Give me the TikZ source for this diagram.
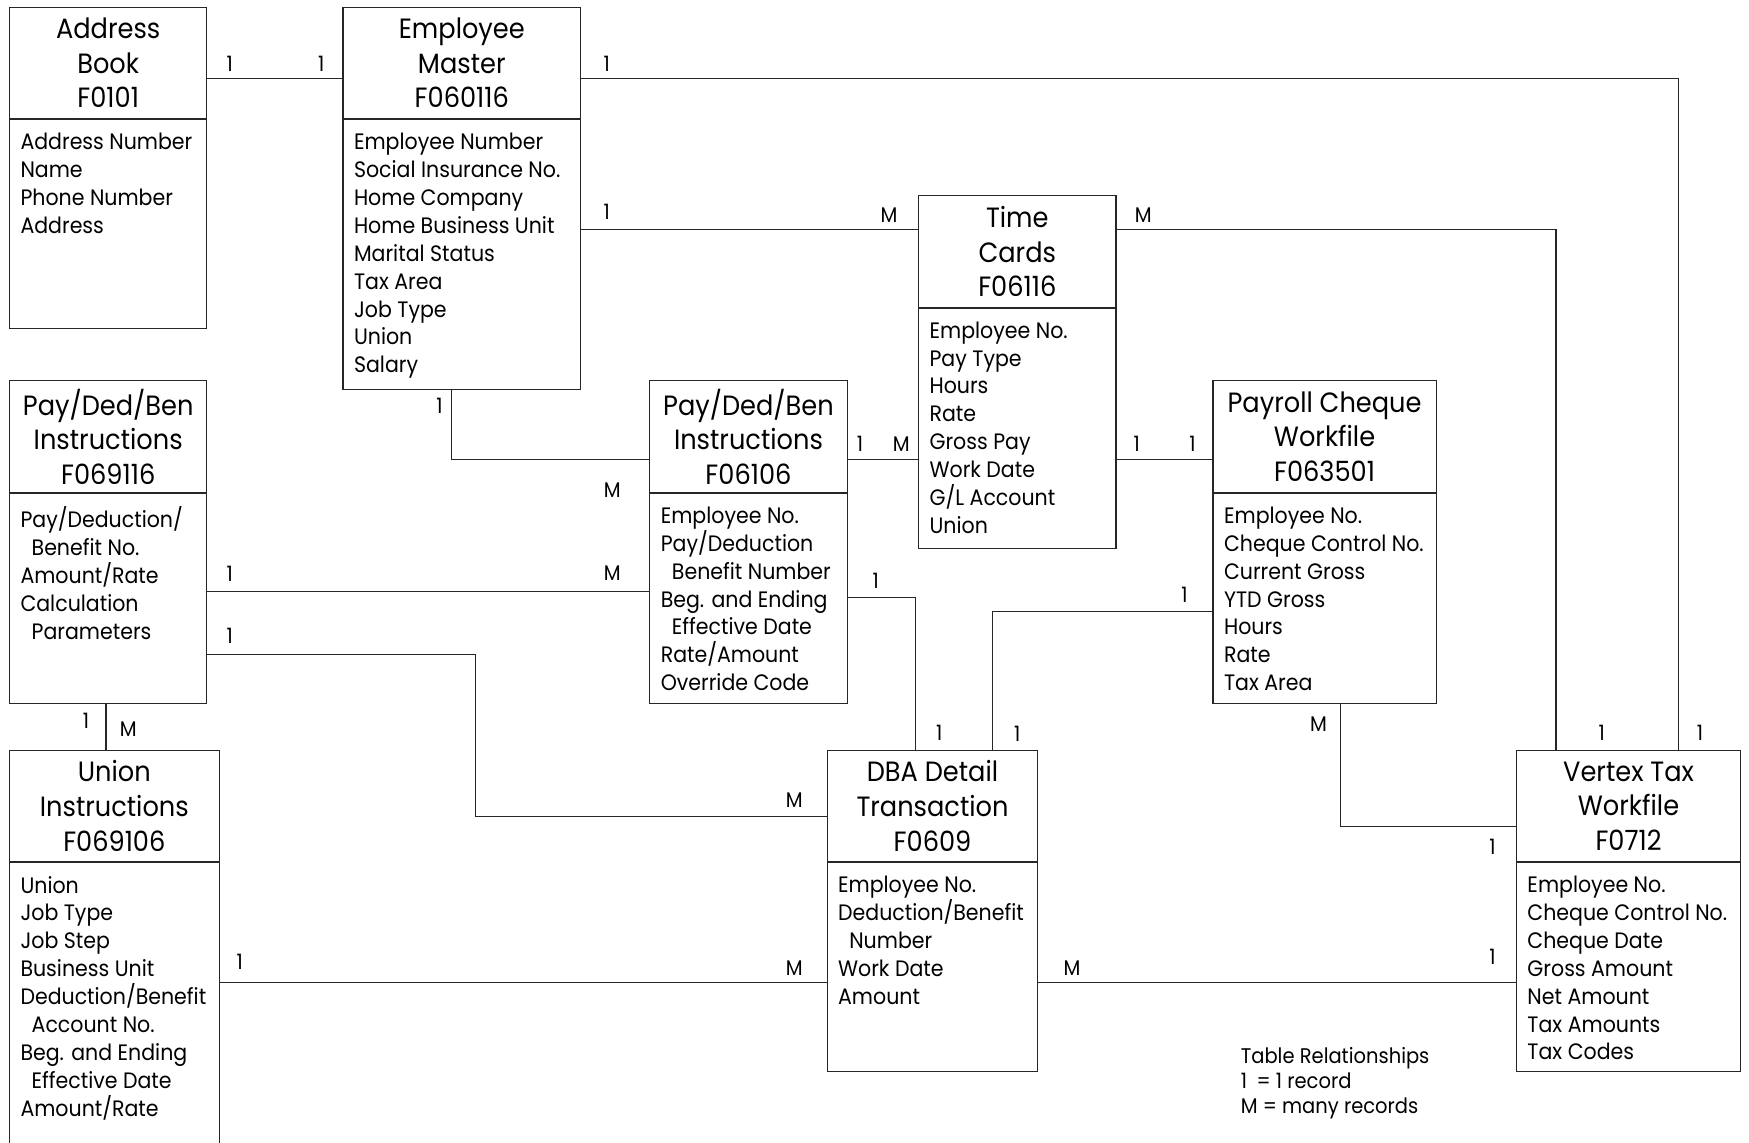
\documentclass[tikz,border=0pt]{standalone}
\usepackage{fontspec}
\setmainfont{Poppins}[FakeStretch=0.92]
\usepackage{tikz}
\usetikzlibrary{positioning}

\definecolor{linec}{gray}{0.15}
\newcommand{\fieldind}{\hspace*{5pt}}

\begin{document}
\begin{tikzpicture}[
  x=0.5pt, y=-0.5pt,
  tblhd/.style={draw=linec, line width=0.5pt, anchor=north west, align=center,
                minimum height=50pt, inner sep=0pt, font=\fontsize{12.5}{15.5}\selectfont},
  tblbd/.style={draw=linec, line width=0.5pt, inner sep=0pt},
  fld/.style={anchor=north west, align=left, inner xsep=5pt, inner ysep=6pt,
              font=\fontsize{10}{12.5}\selectfont},
  rel/.style={draw=linec, line width=0.5pt},
  card/.style={inner sep=0pt, font=\fontsize{9.5}{11}\selectfont},
]
\clip (0,0) rectangle (1568,1024);

% tables
\node[tblhd, minimum width=88.5pt] (ab-h) at (8,6) {Address\\Book\\F0101};
\node[tblbd, minimum width=88.5pt, minimum height=93.5pt, below=0pt of ab-h] (ab-b) {};
\node[fld] (ab-f) at (ab-b.north west) {Address Number\\Name\\Phone Number\\Address};

\node[tblhd, minimum width=106.5pt] (em-h) at (307,6) {Employee\\Master\\F060116};
\node[tblbd, minimum width=106.5pt, minimum height=121pt, below=0pt of em-h] (em-b) {};
\node[fld] (em-f) at (em-b.north west) {Employee Number\\Social Insurance No.\\Home Company\\Home Business Unit\\Marital Status\\Tax Area\\Job Type\\Union\\Salary};

\node[tblhd, minimum width=88.5pt] (tc-h) at (823,175) {Time\\Cards\\F06116};
\node[tblbd, minimum width=88.5pt, minimum height=107.5pt, below=0pt of tc-h] (tc-b) {};
\node[fld] (tc-f) at (tc-b.north west) {Employee No.\\Pay Type\\Hours\\Rate\\Gross Pay\\Work Date\\G/L Account\\Union};

\node[tblhd, minimum width=88.5pt] (lp-h) at (8,341) {Pay/Ded/Ben\\Instructions\\F069116};
\node[tblbd, minimum width=88.5pt, minimum height=94pt, below=0pt of lp-h] (lp-b) {};
\node[fld] (lp-f) at (lp-b.north west) {Pay/Deduction/\\\fieldind Benefit No.\\Amount/Rate\\Calculation\\\fieldind Parameters};

\node[tblhd, minimum width=88.5pt] (pd-h) at (582,341) {Pay/Ded/Ben\\Instructions\\F06106};
\node[tblbd, minimum width=88.5pt, minimum height=94pt, below=0pt of pd-h] (pd-b) {};
\node[fld] (pd-f) at (pd-b.north west) {Employee No.\\Pay/Deduction\\\fieldind Benefit Number\\Beg. and Ending\\\fieldind Effective Date\\Rate/Amount\\Override Code};

\node[tblhd, minimum width=100pt] (pc-h) at (1087,341) {Payroll Cheque\\Workfile\\F063501};
\node[tblbd, minimum width=100pt, minimum height=94pt, below=0pt of pc-h] (pc-b) {};
\node[fld] (pc-f) at (pc-b.north west) {Employee No.\\Cheque Control No.\\Current Gross\\YTD Gross\\Hours\\Rate\\Tax Area};

\node[tblhd, minimum width=94pt] (ui-h) at (8,672) {Union\\Instructions\\F069106};
\node[tblbd, minimum width=94pt, minimum height=140pt, below=0pt of ui-h] (ui-b) {};
\node[fld] (ui-f) at (ui-b.north west) {Union\\Job Type\\Job Step\\Business Unit\\Deduction/Benefit\\\fieldind Account No.\\Beg. and Ending\\\fieldind Effective Date\\Amount/Rate};

\node[tblhd, minimum width=94.5pt] (db-h) at (741,672) {DBA Detail\\Transaction\\F0609};
\node[tblbd, minimum width=94.5pt, minimum height=93.5pt, below=0pt of db-h] (db-b) {};
\node[fld] (db-f) at (db-b.north west) {Employee No.\\Deduction/Benefit\\\fieldind Number\\Work Date\\Amount};

\node[tblhd, minimum width=100.5pt] (vt-h) at (1359,672) {Vertex Tax\\Workfile\\F0712};
\node[tblbd, minimum width=100.5pt, minimum height=93.5pt, below=0pt of vt-h] (vt-b) {};
\node[fld] (vt-f) at (vt-b.north west) {Employee No.\\Cheque Control No.\\Cheque Date\\Gross Amount\\Net Amount\\Tax Amounts\\Tax Codes};

\node[anchor=north west, align=left, inner sep=0pt, font=\fontsize{9.5}{11}\selectfont] (legend) at (1112,939)
  {Table Relationships\\1\hspace*{0.45em}= 1 record\\M = many records};

% relationships
\draw[rel] (ab-h.east |- 0,70) -- node[card, at start, xshift=10pt, yshift=6.5pt] {1}
  node[card, at end, xshift=-9.5pt, yshift=6.5pt] {1} (em-h.west |- 0,70);
\draw[rel] (em-h.east |- 0,70) -| node[card, at start, xshift=11.5pt, yshift=6.5pt] {1}
  node[card, at end, xshift=9.5pt, yshift=7.5pt] {1} (vt-h.north -| 1505,0);
\draw[rel] (em-b.east |- 0,206) -- node[card, at start, xshift=11.5pt, yshift=8pt] {1}
  node[card, at end, xshift=-13pt, yshift=6.5pt] {M} (tc-h.west |- 0,206);
\draw[rel] (tc-h.east |- 0,206) -| node[card, at start, xshift=12pt, yshift=6.5pt] {M}
  node[card, at end, xshift=20.5pt, yshift=7.5pt] {1} (vt-h.north -| 1395,0);
\draw[rel] (em-b.south -| 405,0) |- node[card, at start, xshift=-5.5pt, yshift=-7pt] {1}
  node[card, at end, xshift=-16.5pt, yshift=-13.5pt] {M} (pd-h.west |- 0,412);
\draw[rel] (pd-h.east |- 0,412) -- node[card, at start, xshift=5.5pt, yshift=7pt] {1}
  node[card, at end, xshift=-7.5pt, yshift=7pt] {M} (tc-b.west |- 0,412);
\draw[rel] (tc-b.east |- 0,412) -- node[card, at start, xshift=9pt, yshift=7pt] {1}
  node[card, at end, xshift=-9pt, yshift=7pt] {1} (pc-h.west |- 0,412);
\draw[rel] (lp-b.east |- 0,530) -- node[card, at start, xshift=10pt, yshift=8pt] {1}
  node[card, at end, xshift=-16.5pt, yshift=8pt] {M} (pd-b.west |- 0,530);
\draw[rel] (lp-b.east |- 0,587) -- node[card, at start, xshift=10pt, yshift=8.5pt] {1} (426,587)
  |- node[card, at end, xshift=-14.5pt, yshift=7.5pt] {M} (db-h.west |- 0,732);
\draw[rel] (lp-b.south -| 95,0) -- node[card, at start, xshift=-9pt, yshift=-7.5pt] {1}
  node[card, at end, xshift=10pt, yshift=9pt] {M} (ui-h.north -| 95,0);
\draw[rel] (pd-b.east |- 0,536) -| node[card, at start, xshift=12.5pt, yshift=7.5pt] {1}
  node[card, at end, xshift=10.5pt, yshift=7.5pt] {1} (db-h.north -| 821,0);
\draw[rel] (pc-b.west |- 0,548) -| node[card, at start, xshift=-12.5pt, yshift=7.5pt] {1}
  node[card, at end, xshift=11pt, yshift=7pt] {1} (db-h.north -| 890,0);
\draw[rel] (pc-b.south -| 1202,0) |- node[card, at start, xshift=-10pt, yshift=-9pt] {M}
  node[card, at end, xshift=-10.5pt, yshift=-9pt] {1} (vt-h.west |- 0,741);
\draw[rel] (ui-b.east |- 0,881) -- node[card, at start, xshift=9pt, yshift=9.5pt] {1}
  node[card, at end, xshift=-14.5pt, yshift=6.5pt] {M} (db-b.west |- 0,881);
\draw[rel] (db-b.east |- 0,881) -- node[card, at start, xshift=15pt, yshift=6.5pt] {M}
  node[card, at end, xshift=-10.5pt, yshift=11.5pt] {1} (vt-b.west |- 0,881);
\end{tikzpicture}
\end{document}
